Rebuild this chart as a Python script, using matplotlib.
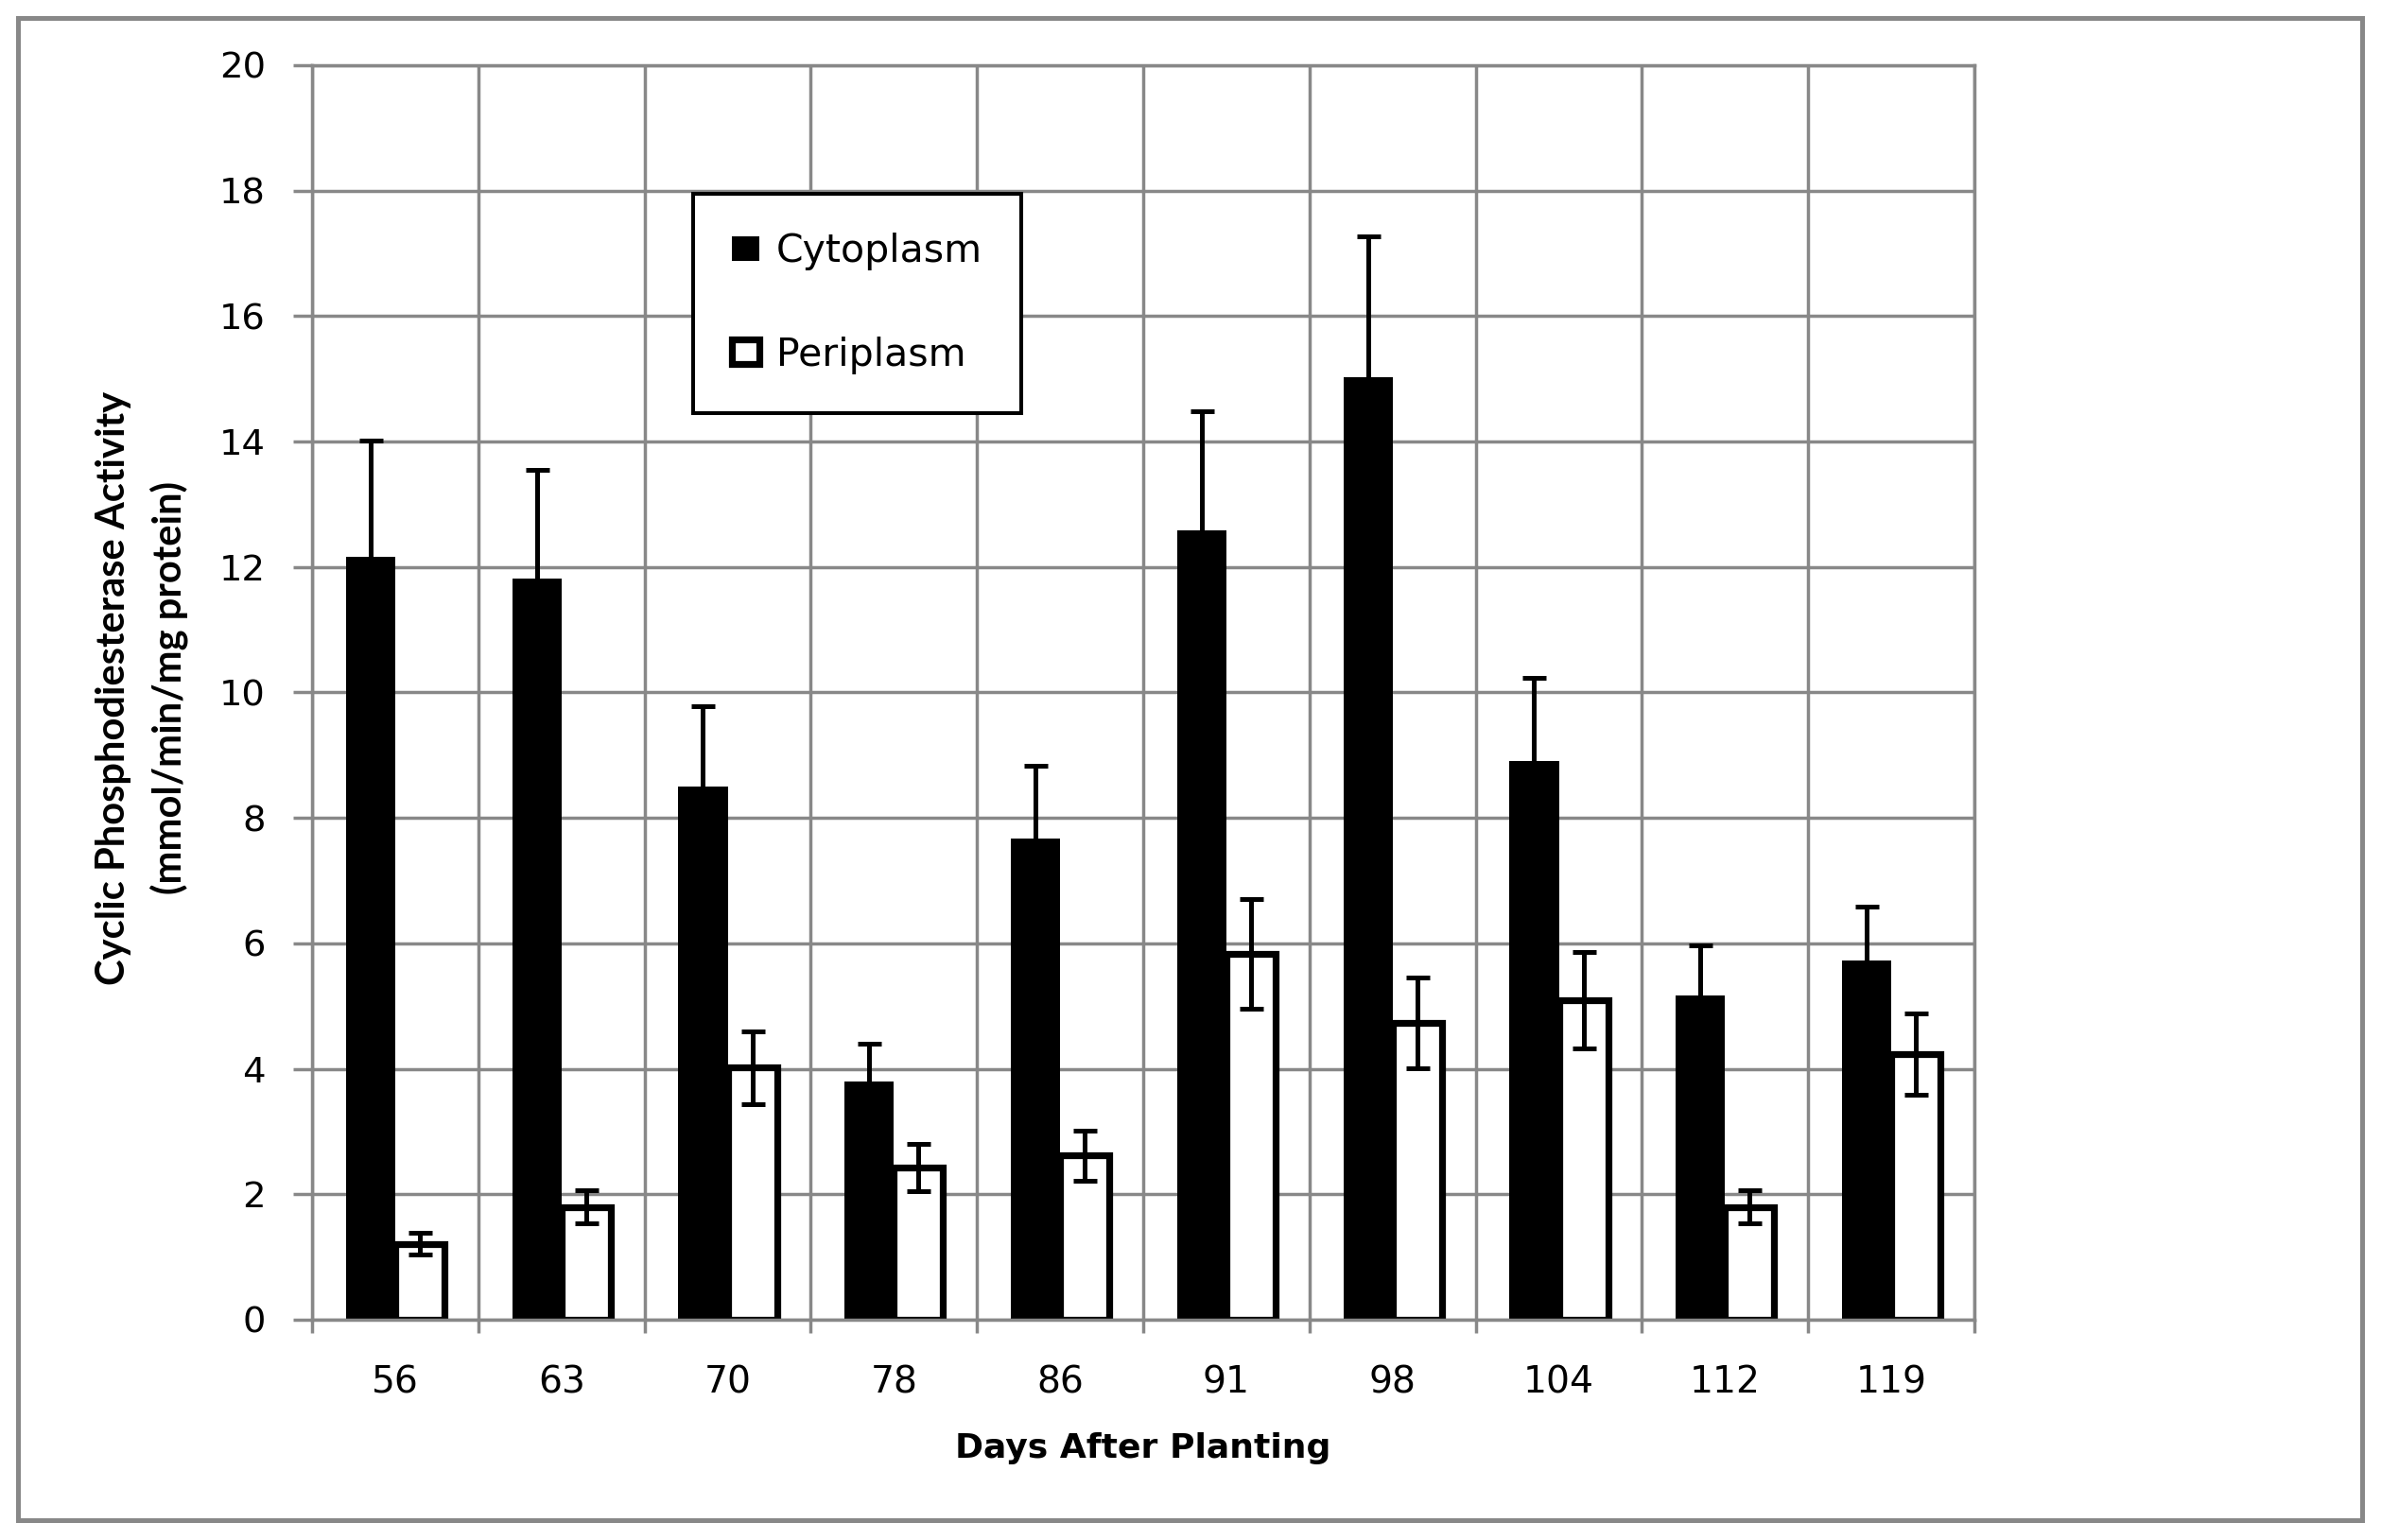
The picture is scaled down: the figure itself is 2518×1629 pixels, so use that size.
import matplotlib
matplotlib.use("Agg")
import matplotlib.pyplot as plt
import numpy as np
from matplotlib.patches import Rectangle

# ---- data ----
days = ['56', '63', '70', '78', '86', '91', '98', '104', '112', '119']
cytoplasm = [12.17, 11.82, 8.50, 3.80, 7.67, 12.58, 15.03, 8.91, 5.17, 5.72]
cytoplasm_err = [1.85, 1.73, 1.28, 0.60, 1.16, 1.90, 2.24, 1.33, 0.80, 0.87]
periplasm = [1.21, 1.80, 4.02, 2.43, 2.62, 5.83, 4.73, 5.10, 1.80, 4.23]
periplasm_err = [0.17, 0.27, 0.58, 0.38, 0.40, 0.87, 0.72, 0.77, 0.27, 0.65]
yticks = [0, 2, 4, 6, 8, 10, 12, 14, 16, 18, 20]

W, H = 2518, 1629
fig = plt.figure(figsize=(W / 100, H / 100), dpi=100)
GRAY = '#888888'

L, R, T, B = 330, 2088, 69, 1396
ax = fig.add_axes([L / W, 1 - B / H, (R - L) / W, (B - T) / H])

x = np.arange(len(days))
w = 0.296
ax.set_axisbelow(True)
b1 = ax.bar(x - w / 2, cytoplasm, w, color='black', edgecolor='black', linewidth=0,
            label='Cytoplasm', zorder=2)
b2 = ax.bar(x + w / 2, periplasm, w, color='white', edgecolor='black', linewidth=5.2,
            label='Periplasm', zorder=2)
ax.errorbar(x - w / 2, cytoplasm, yerr=cytoplasm_err, fmt='none', ecolor='black',
            elinewidth=3.6, capsize=9, capthick=3.6, zorder=3)
ax.errorbar(x + w / 2, periplasm, yerr=periplasm_err, fmt='none', ecolor='black',
            elinewidth=3.6, capsize=9, capthick=3.6, zorder=3)

ax.set_xlim(-0.5, len(days) - 0.5)
ax.set_ylim(0, 20)
ax.set_yticks(yticks)
ax.set_yticklabels([str(v) for v in yticks])

# category boundaries as major ticks (grid), labels at centers as minor ticks
ax.set_xticks(np.arange(-0.5, len(days), 1.0))
ax.set_xticklabels([])
ax.set_xticks(x, minor=True)
ax.set_xticklabels(days, minor=True)
ax.tick_params(axis='x', which='minor', length=0, pad=34, labelsize=28.3)
ax.tick_params(axis='x', which='major', length=10, width=2.5, color=GRAY, direction='out')
ax.tick_params(axis='y', which='major', length=14.4, width=2.5, color=GRAY,
               direction='out', pad=21, labelsize=27.7)

ax.grid(True, which='major', color=GRAY, linewidth=2.5)
for s in ax.spines.values():
    s.set_color(GRAY)
    s.set_linewidth(2.5)

ax.set_xlabel('Days After Planting', fontsize=26, fontweight='bold', labelpad=24)
ax.set_ylabel('Cyclic Phosphodiesterase Activity\n(mmol/min/mg protein)',
              fontsize=30, fontweight='bold', family='Lato', linespacing=1.6)
ax.yaxis.set_label_coords((150 - L) / (R - L), (B - 728) / (B - T))
ax.yaxis.label.set_va('center')

leg = ax.legend(handles=[b1, b2], loc='upper left',
                bbox_to_anchor=(733 / W, 1 - 205 / H), bbox_transform=fig.transFigure,
                borderaxespad=0, fontsize=29.5, frameon=True, fancybox=False,
                handlelength=0.72, handleheight=0.6, handletextpad=0.42,
                labelspacing=1.7, borderpad=1.0)
leg.get_frame().set_edgecolor('black')
leg.get_frame().set_linewidth(2.9)
leg.get_frame().set_facecolor('white')
leg.get_frame().set_alpha(1)
leg.set_zorder(5)

# outer chart border
fig.patches.append(Rectangle((19 / W, 1 - 1608 / H), (2498 - 19) / W, (1608 - 19) / H,
                             transform=fig.transFigure, fill=False, edgecolor=GRAY,
                             linewidth=3.6))

fig.savefig('out.png', dpi=100, facecolor='white')
